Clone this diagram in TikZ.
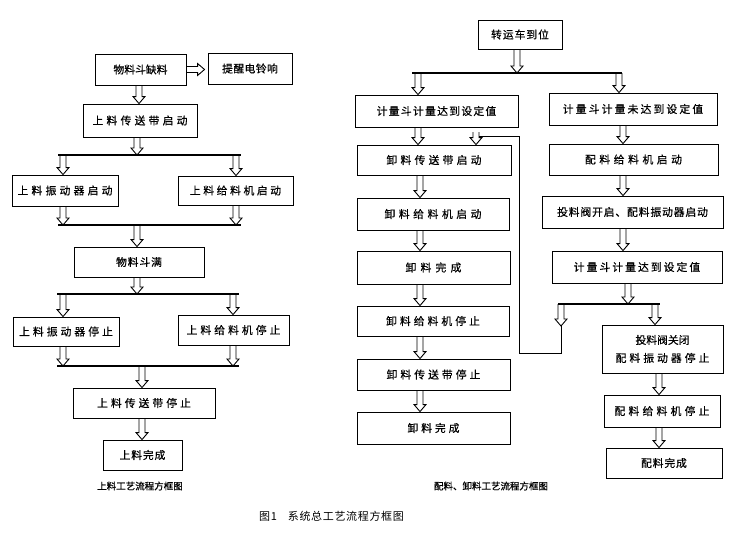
\documentclass[tikz,border=0pt]{standalone}
\usepackage{fontspec}
\newfontfamily\cjk[FakeBold=0.6]{Noto Sans CJK SC}
\newfontfamily\cjklight{Noto Sans CJK SC}
\newcommand\cjkfs{\cjk\fontsize{10.8}{18}\selectfont}
\usetikzlibrary{calc}
\tikzset{
  box/.style={draw, line width=0.9pt, inner sep=0pt, align=center, font=\cjkfs},
  ls/.style={font=\cjkfs\addfontfeatures{LetterSpace=#1}},
  bus/.style={line width=1.4pt},
  link/.style={line width=0.9pt},
  captext/.style={font=\cjk\fontsize{9.5}{12}\selectfont},
  harrow/.style={line width=0.9pt, to path={let \p1=(\tikztostart), \p2=(\tikztotarget) in
      (\x1-3pt,\y1) -- (\x1-3pt,\y2+7pt) -- (\x1-6pt,\y2+7pt) -- (\x1,\y2)
      -- (\x1+6pt,\y2+7pt) -- (\x1+3pt,\y2+7pt) -- (\x1+3pt,\y1)}},
  harrowr/.style={line width=0.9pt, to path={let \p1=(\tikztostart), \p2=(\tikztotarget) in
      (\x1,\y1+3pt) -- (\x2-7pt,\y1+3pt) -- (\x2-7pt,\y1+6pt) -- (\x2,\y1)
      -- (\x2-7pt,\y1-6pt) -- (\x2-7pt,\y1-3pt) -- (\x1,\y1-3pt)}},
}
\begin{document}
\begin{tikzpicture}[x=1pt,y=-1pt]
\useasboundingbox[fill=white] (0,0) rectangle (741,546);

% ---------- left chart ----------
\node[box, minimum width=91, minimum height=31] (n1) at (140.5,69.5) {物料斗缺料};
\node[box, ls=4, minimum width=84, minimum height=31] (n2) at (250,68.5) {提醒电铃响};
\node[box, ls=30, minimum width=114, minimum height=33] (n3) at (140,120.5) {上料传送带启动};
\node[box, ls=30, minimum width=106, minimum height=31] (n4) at (65,190.5) {上料振动器启动};
\node[box, ls=24, minimum width=115, minimum height=29] (n5) at (235.5,190.5) {上料给料机启动};
\node[box, ls=8, minimum width=130, minimum height=30] (n6) at (139,262) {物料斗满};
\node[box, ls=28, minimum width=106, minimum height=29] (n7) at (66,331.5) {上料振动器停止};
\node[box, ls=28, minimum width=111, minimum height=30] (n8) at (233.5,330) {上料给料机停止};
\node[box, ls=28, minimum width=142, minimum height=30] (n9) at (144,403) {上料传送带停止};
\node[box, ls=8, minimum width=79, minimum height=30] (n10) at (142.5,455) {上料完成};

\coordinate (b1l) at (58,155);  \coordinate (b1r) at (241,155);
\coordinate (b2l) at (58,225);  \coordinate (b2r) at (241,225);
\coordinate (b3l) at (57,294);  \coordinate (b3r) at (239,294);
\coordinate (b4l) at (57,366);  \coordinate (b4r) at (239,366);
\draw[bus] (b1l) -- (b1r);
\draw[bus] (b2l) -- (b2r);
\draw[bus] (b3l) -- (b3r);
\draw[bus] (b4l) -- (b4r);

\coordinate (xa) at (139,0);
\coordinate (xb) at (137,0);
\coordinate (xc) at (142,0);
\coordinate (xl) at (63,0);
\coordinate (xr) at (236,0);
\coordinate (xr2) at (233,0);

\draw[harrowr] (n1.east) to ([xshift=-3pt]n2.west);
\draw[harrow] (n1.south -| xa) to (n3.north -| xa);
\draw[harrow] (n3.south -| xb) to (b1l -| xb);
\draw[harrow] (b1l -| xl) to (n4.north -| xl);
\draw[harrow] (b1l -| xr) to (n5.north -| xr);
\draw[harrow] (n4.south -| xl) to (b2l -| xl);
\draw[harrow] (n5.south -| xr) to (b2l -| xr);
\draw[harrow] (b2l -| xb) to (n6.north -| xb);
\draw[harrow] (n6.south -| xb) to (b3l -| xb);
\draw[harrow] (b3l -| xl) to (n7.north -| xl);
\draw[harrow] (b3l -| xr2) to (n8.north -| xr2);
\draw[harrow] (n7.south -| xl) to (b4l -| xl);
\draw[harrow] (n8.south -| xr2) to (b4l -| xr2);
\draw[harrow] (b4l -| xc) to (n9.north -| xc);
\draw[harrow] (n9.south -| xc) to (n10.north -| xc);

\node[captext] (c1) at (140,486) {上料工艺流程方框图};

% ---------- right chart ----------
\node[box, ls=9, minimum width=84, minimum height=29] (r1) at (520,34.5) {转运车到位};
\node[box, ls=12, minimum width=163, minimum height=32] (r2) at (436.5,111) {计量斗计量达到设定值};
\node[box, ls=20, minimum width=168, minimum height=32] (r3) at (633,109) {计量斗计量未达到设定值};
\node[box, ls=30, minimum width=154, minimum height=30] (r4) at (434,160) {卸料传送带启动};
\node[box, ls=33, minimum width=169, minimum height=31] (r5) at (633.5,159.5) {配料给料机启动};
\node[box, ls=33, minimum width=152, minimum height=32] (r6) at (433,214) {卸料给料机启动};
\node[box, ls=8, minimum width=181, minimum height=32] (r7) at (632.5,212) {投料阀开启、配料振动器启动};
\node[box, ls=39, minimum width=153, minimum height=33] (r8) at (433.5,267.5) {卸料完成};
\node[box, ls=19, minimum width=170, minimum height=32] (r9) at (637,267) {计量斗计量达到设定值};
\node[box, ls=28, minimum width=152, minimum height=30] (r10) at (433,321) {卸料给料机停止};
\node[box, minimum width=121, minimum height=48] (r11) at (662.5,349) {投料阀关闭\\{\addfontfeatures{LetterSpace=28}配料振动器停止}};
\node[box, ls=28, minimum width=153, minimum height=31] (r12) at (433.5,374.5) {卸料传送带停止};
\node[box, ls=30, minimum width=116, minimum height=32] (r13) at (662,411) {配料给料机停止};
\node[box, ls=27, minimum width=153, minimum height=32] (r14) at (433.5,428) {卸料完成};
\node[box, ls=8, minimum width=116, minimum height=30] (r15) at (664,463) {配料完成};

\coordinate (rb1l) at (412,73);  \coordinate (rb1r) at (622,73);
\coordinate (rb2l) at (558,304); \coordinate (rb2r) at (660,304);
\draw[bus] (rb1l) -- (rb1r);
\draw[bus] (rb2l) -- (rb2r);

\coordinate (ya) at (517,0);
\coordinate (yl) at (418,0);
\coordinate (yl2) at (420,0);
\coordinate (yr) at (619,0);
\coordinate (yr2) at (623,0);
\coordinate (yr3) at (628,0);
\coordinate (yr4) at (655,0);
\coordinate (yr5) at (659,0);
\coordinate (yf) at (561,0);
\coordinate (fbtip) at (561,326);
\coordinate (fbc1) at (519,353);
\coordinate (fbend) at (479,136);
\coordinate (fbtop) at (476,132);

\draw[harrow] (r1.south -| ya) to (rb1l -| ya);
\draw[harrow] (rb1l -| yl) to (r2.north -| yl);
\draw[harrow] (rb1l -| yr) to (r3.north -| yr);
\draw[harrow] (r2.south -| yl) to (r4.north -| yl);
\draw[harrow] (r3.south -| yr2) to (r5.north -| yr2);
\draw[harrow] (r4.south -| yl2) to (r6.north -| yl2);
\draw[harrow] (r6.south -| yl2) to (r8.north -| yl2);
\draw[harrow] (r8.south -| yl2) to (r10.north -| yl2);
\draw[harrow] (r10.south -| yl2) to (r12.north -| yl2);
\draw[harrow] (r12.south -| yl2) to (r14.north -| yl2);
\draw[harrow] (r5.south -| yr2) to (r7.north -| yr2);
\draw[harrow] (r7.south -| yr2) to (r9.north -| yr2);
\draw[harrow] (r9.south -| yr3) to (rb2l -| yr3);
\draw[harrow] (rb2l -| yr4) to (r11.north -| yr4);
\draw[harrow] (rb2l -| yf) to (fbtip);
\draw[harrow] (r11.south -| yr5) to (r13.north -| yr5);
\draw[harrow] (r13.south -| yr5) to (r15.north -| yr5);
\draw[harrow] (fbtop) to (r4.north -| fbtop);
\draw[link] (fbtip) |- (fbc1) |- (fbend);

\node[captext] (c2) at (491,486) {配料、卸料工艺流程方框图};

\node[font=\cjklight\fontsize{11}{13}\selectfont\addfontfeatures{LetterSpace=6}] (c3) at (331.5,516) {图1\hspace{1em}系统总工艺流程方框图};
\end{tikzpicture}
\end{document}
